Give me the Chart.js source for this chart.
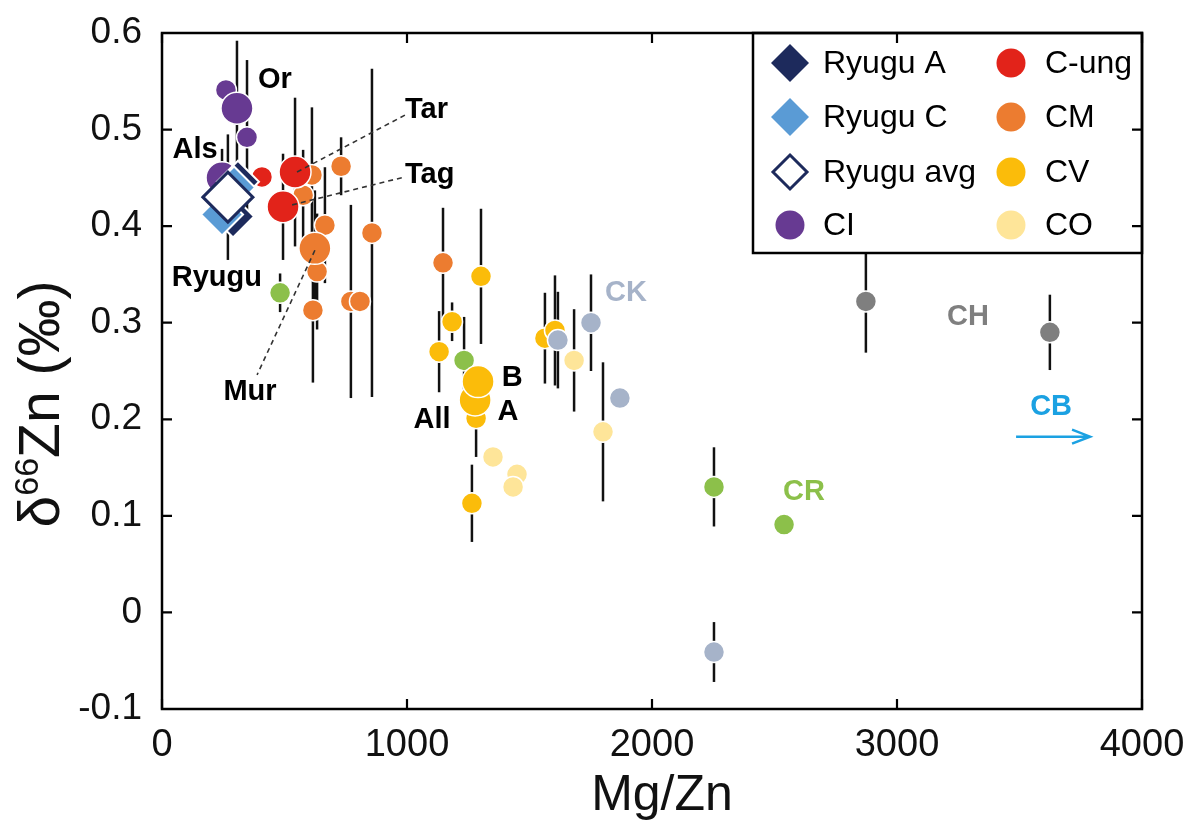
<!DOCTYPE html>
<html>
<head>
<meta charset="utf-8">
<script src="https://cdn.jsdelivr.net/npm/chart.js@4.4.1/dist/chart.umd.min.js"></script>
<style>
  html, body { margin: 0; padding: 0; background: #fff; }
  #c { display: block; }
</style>
</head>
<body>
<canvas id="c" width="1200" height="827"></canvas>
<script>
// ---------------- DATA ----------------
const xTicks = [0, 1000, 2000, 3000, 4000];
const xTickLabels = ['0', '1000', '2000', '3000', '4000'];
const yTicks = [-0.1, 0, 0.1, 0.2, 0.3, 0.4, 0.5, 0.6];
const yTickLabels = ['-0.1', '0', '0.1', '0.2', '0.3', '0.4', '0.5', '0.6'];

// Ryugu
const ryuguA_x = [310, 290];
const ryuguA_y = [0.446, 0.41];
const ryuguC_x = [294, 245];
const ryuguC_y = [0.44, 0.412];
const ryuguAvg_x = [269];
const ryuguAvg_y = [0.43];
const ryuguAvg_err = [0.065];

// CI
const ci_x = [261, 347, 245, 306];
const ci_y = [0.541, 0.492, 0.45, 0.522];
const ci_err = [0, 0.08, 0.03, 0.07];
const ci_big = [false, false, true, true];

// C-ung
const cung_x = [408, 494, 543];
const cung_y = [0.451, 0.42, 0.456];
const cung_err = [0, 0.055, 0.077];
const cung_big = [false, true, true];

// CM
const cm_x = [612, 576, 731, 665, 633, 616, 857, 771, 808, 1147, 624];
const cm_y = [0.453, 0.432, 0.462, 0.401, 0.353, 0.313, 0.393, 0.322, 0.322, 0.362, 0.377];
const cm_err = [0.07, 0.047, 0.03, 0.06, 0.06, 0.075, 0.17, 0.1, 0, 0.057, 0.06];
const cm_big = [false, false, false, false, false, false, false, false, false, false, true];

// CV
const cv_x = [1265, 1131, 1184, 1302, 1563, 1604, 1282, 1278, 1290];
const cv_y = [0.113, 0.27, 0.301, 0.348, 0.284, 0.292, 0.201, 0.22, 0.239];
const cv_err = [0.04, 0.042, 0.02, 0.07, 0.047, 0.057, 0.04, 0, 0];
const cv_big = [false, false, false, false, false, false, false, true, true];

// CO
const co_x = [1682, 1800, 1351, 1449, 1433];
const co_y = [0.261, 0.187, 0.161, 0.143, 0.13];
const co_err = [0.053, 0.072, 0, 0, 0];

// CR
const cr_x = [482, 1233, 2253, 2539];
const cr_y = [0.331, 0.261, 0.13, 0.091];
const cr_err = [0.02, 0.045, 0.041, 0];

// CK
const ck_x = [1616, 1751, 1869, 2253];
const ck_y = [0.282, 0.3, 0.222, -0.041];
const ck_err = [0.05, 0.05, 0, 0.031];

// CH
const ch_x = [2873, 3624];
const ch_y = [0.322, 0.29];
const ch_err = [0.053, 0.039];

// Text annotations (data coordinates)
const labelText = ['Or', 'Als', 'Tar', 'Tag', 'Ryugu', 'Mur', 'B', 'A', 'All', 'CK', 'CH', 'CR', 'CB'];
const labelX    = [461, 135, 992, 992, 224, 359, 1429, 1412, 1102, 1894, 3290, 2620, 3629];
const labelY    = [0.551, 0.479, 0.520, 0.453, 0.346, 0.228, 0.243, 0.208, 0.199, 0.331, 0.306, 0.125, 0.213];
const labelAlign = ['center', 'center', 'left', 'left', 'center', 'center', 'center', 'center', 'center', 'center', 'center', 'center', 'center'];
const labelColor = ['#000', '#000', '#000', '#000', '#000', '#000', '#000', '#000', '#000', '#a6b3c9', '#7f7f7f', '#8cc04a', '#1ba1e2'];

// Dashed leader lines (data coordinates)
const leaderFromX = [551, 531, 624];
const leaderFromY = [0.456, 0.422, 0.375];
const leaderToX   = [992, 992, 388];
const leaderToY   = [0.515, 0.451, 0.246];

// CB arrow (data coordinates)
const cbArrowX = [3486, 3788];
const cbArrowY = [0.182, 0.182];

// ---------------- STYLE ----------------
const FONT = "'Liberation Sans', Arial, Helvetica, sans-serif";
const COL = {
  ryuguA: '#1d2a5c', ryuguC: '#5a9bd5', ci: '#673a92', cung: '#e2231a',
  cm: '#ec7c30', cv: '#fbbc0a', co: '#fee599', cr: '#8cc04a', ck: '#a6b3c9', ch: '#7f7f7f'
};
const R_SMALL = 10.5, R_BIG = 16;

function pts(xs, ys) { return xs.map((x, i) => ({ x: x, y: ys[i] })); }
function radii(big, n) { return big ? big.map(b => b ? R_BIG : R_SMALL) : new Array(n).fill(R_SMALL); }

function circleSet(label, xs, ys, errs, big, color, order) {
  return {
    label: label, data: pts(xs, ys), errs: errs, order: order,
    pointStyle: 'circle', pointRadius: radii(big, xs.length), pointHoverRadius: radii(big, xs.length),
    backgroundColor: color, borderColor: '#ffffff', pointBorderWidth: 1.5, showLine: false
  };
}

const datasets = [
  { label: 'Ryugu avg', data: pts(ryuguAvg_x, ryuguAvg_y), errs: ryuguAvg_err, order: 0,
    pointStyle: 'rectRot', pointRadius: 25, pointHoverRadius: 25,
    backgroundColor: '#ffffff', borderColor: COL.ryuguA, pointBorderWidth: 3, showLine: false },
  { label: 'Ryugu C', data: pts(ryuguC_x, ryuguC_y), order: 1,
    pointStyle: 'rectRot', pointRadius: 21, pointHoverRadius: 21,
    backgroundColor: COL.ryuguC, borderColor: '#ffffff', pointBorderWidth: 2, showLine: false },
  { label: 'Ryugu A', data: pts(ryuguA_x, ryuguA_y), order: 2,
    pointStyle: 'rectRot', pointRadius: 21, pointHoverRadius: 21,
    backgroundColor: COL.ryuguA, borderColor: '#ffffff', pointBorderWidth: 2, showLine: false },
  circleSet('C-ung', cung_x, cung_y, cung_err, cung_big, COL.cung, 3),
  circleSet('CI', ci_x, ci_y, ci_err, ci_big, COL.ci, 4),
  circleSet('CM', cm_x, cm_y, cm_err, cm_big, COL.cm, 5),
  circleSet('CH', ch_x, ch_y, ch_err, null, COL.ch, 6),
  circleSet('CK', ck_x, ck_y, ck_err, null, COL.ck, 7),
  circleSet('CV', cv_x, cv_y, cv_err, cv_big, COL.cv, 8),
  circleSet('CR', cr_x, cr_y, cr_err, null, COL.cr, 9),
  circleSet('CO', co_x, co_y, co_err, null, COL.co, 10)
];

// Legend entries (drawn as a box inside the plot)
const legendItems = [
  { text: 'Ryugu A', shape: 'diamond', fill: COL.ryuguA, stroke: null, col: 0, row: 0 },
  { text: 'Ryugu C', shape: 'diamond', fill: COL.ryuguC, stroke: null, col: 0, row: 1 },
  { text: 'Ryugu avg', shape: 'diamond', fill: '#ffffff', stroke: COL.ryuguA, col: 0, row: 2 },
  { text: 'CI', shape: 'circle', fill: COL.ci, col: 0, row: 3 },
  { text: 'C-ung', shape: 'circle', fill: COL.cung, col: 1, row: 0 },
  { text: 'CM', shape: 'circle', fill: COL.cm, col: 1, row: 1 },
  { text: 'CV', shape: 'circle', fill: COL.cv, col: 1, row: 2 },
  { text: 'CO', shape: 'circle', fill: COL.co, col: 1, row: 3 }
];

// ---------------- PLUGINS ----------------
const errorBars = {
  id: 'errorBars',
  beforeDatasetsDraw(chart) {
    const ctx = chart.ctx, xs = chart.scales.x, ys = chart.scales.y;
    ctx.save();
    ctx.strokeStyle = '#111';
    ctx.lineWidth = 2.5;
    ctx.lineCap = 'butt';
    chart.data.datasets.forEach(ds => {
      if (!ds.errs) return;
      ds.data.forEach((p, i) => {
        const e = ds.errs[i];
        if (!e) return;
        const px = xs.getPixelForValue(p.x);
        ctx.beginPath();
        ctx.moveTo(px, ys.getPixelForValue(p.y + e));
        ctx.lineTo(px, ys.getPixelForValue(p.y - e));
        ctx.stroke();
      });
    });
    ctx.restore();
  }
};

const decorations = {
  id: 'decorations',
  afterDatasetsDraw(chart) {
    const ctx = chart.ctx, xs = chart.scales.x, ys = chart.scales.y, a = chart.chartArea;
    ctx.save();
    // leader lines
    ctx.strokeStyle = '#333';
    ctx.lineWidth = 1.6;
    ctx.setLineDash([5, 4]);
    for (let i = 0; i < leaderFromX.length; i++) {
      ctx.beginPath();
      ctx.moveTo(xs.getPixelForValue(leaderFromX[i]), ys.getPixelForValue(leaderFromY[i]));
      ctx.lineTo(xs.getPixelForValue(leaderToX[i]), ys.getPixelForValue(leaderToY[i]));
      ctx.stroke();
    }
    ctx.setLineDash([]);

    // labels
    ctx.font = 'bold 29px ' + FONT;
    ctx.textBaseline = 'middle';
    for (let i = 0; i < labelText.length; i++) {
      ctx.fillStyle = labelColor[i];
      ctx.textAlign = labelAlign[i];
      ctx.fillText(labelText[i], xs.getPixelForValue(labelX[i]), ys.getPixelForValue(labelY[i]));
    }

    // CB arrow
    const ax0 = xs.getPixelForValue(cbArrowX[0]), ax1 = xs.getPixelForValue(cbArrowX[1]);
    const ay = ys.getPixelForValue(cbArrowY[0]);
    ctx.strokeStyle = '#1ba1e2';
    ctx.lineWidth = 2.5;
    ctx.beginPath();
    ctx.moveTo(ax0, ay); ctx.lineTo(ax1, ay);
    ctx.moveTo(ax1 - 18, ay - 7); ctx.lineTo(ax1, ay); ctx.lineTo(ax1 - 18, ay + 7);
    ctx.stroke();

    // legend box
    const lx = 753, ly = a.top, lw = a.right - 753, lh = 220;
    ctx.fillStyle = '#fff';
    ctx.fillRect(lx, ly, lw, lh);
    ctx.strokeStyle = '#000';
    ctx.lineWidth = 2.5;
    ctx.strokeRect(lx, ly, lw, lh);
    const symX = [790, 1011], txtX = [823, 1045], rowY = [a.top + 30, a.top + 84, a.top + 139, a.top + 192];
    ctx.font = '32px ' + FONT;
    ctx.textAlign = 'left';
    ctx.textBaseline = 'middle';
    legendItems.forEach(it => {
      const sx = symX[it.col], sy = rowY[it.row];
      ctx.beginPath();
      if (it.shape === 'diamond') {
        const r = it.stroke ? 17 : 19;
        ctx.moveTo(sx, sy - r); ctx.lineTo(sx + r, sy); ctx.lineTo(sx, sy + r); ctx.lineTo(sx - r, sy); ctx.closePath();
        ctx.fillStyle = it.fill; ctx.fill();
        if (it.stroke) { ctx.strokeStyle = it.stroke; ctx.lineWidth = 3; ctx.stroke(); }
      } else {
        ctx.arc(sx, sy, 14.5, 0, Math.PI * 2);
        ctx.fillStyle = it.fill; ctx.fill();
      }
      ctx.fillStyle = '#000';
      ctx.fillText(it.text, txtX[it.col], sy + 1);
    });
    ctx.restore();
  },
  afterDraw(chart) {
    const ctx = chart.ctx, xs = chart.scales.x, ys = chart.scales.y, a = chart.chartArea;
    ctx.save();
    // frame
    ctx.strokeStyle = '#000';
    ctx.lineWidth = 2.5;
    ctx.strokeRect(a.left, a.top, a.right - a.left, a.bottom - a.top);
    // inward ticks
    ctx.lineWidth = 2.2;
    ctx.beginPath();
    const T = 10;
    yTicks.forEach(v => {
      const py = ys.getPixelForValue(v);
      ctx.moveTo(a.left, py); ctx.lineTo(a.left + T, py);
      ctx.moveTo(a.right, py); ctx.lineTo(a.right - T, py);
    });
    xTicks.forEach(v => {
      const px = xs.getPixelForValue(v);
      ctx.moveTo(px, a.bottom); ctx.lineTo(px, a.bottom - T);
      ctx.moveTo(px, a.top); ctx.lineTo(px, a.top + T);
    });
    ctx.stroke();

    // axis titles
    ctx.fillStyle = '#111';
    ctx.textBaseline = 'alphabetic';
    ctx.textAlign = 'center';
    ctx.font = '50px ' + FONT;
    ctx.fillText('Mg/Zn', 662, 810);

    // y title with superscript
    ctx.translate(59, 404);
    ctx.rotate(-Math.PI / 2);
    const big = '57px ' + FONT, small = '34px ' + FONT;
    const p1 = 'δ', p2 = '66', p3 = 'Zn (‰)';
    ctx.font = big; const w1 = ctx.measureText(p1).width, w3 = ctx.measureText(p3).width;
    ctx.font = small; const w2 = ctx.measureText(p2).width;
    let x0 = -(w1 + w2 + w3) / 2;
    ctx.textAlign = 'left';
    ctx.font = big; ctx.fillText(p1, x0, 0);
    ctx.font = small; ctx.fillText(p2, x0 + w1, -21);
    ctx.font = big; ctx.fillText(p3, x0 + w1 + w2, 0);
    ctx.restore();
  }
};

// ---------------- CHART ----------------
new Chart(document.getElementById('c'), {
  type: 'scatter',
  data: { datasets: datasets },
  options: {
    responsive: false,
    animation: false,
    events: [],
    layout: { padding: { top: 33, right: 58, left: 0, bottom: 0 } },
    plugins: { legend: { display: false }, tooltip: { enabled: false } },
    scales: {
      x: {
        type: 'linear', min: 0, max: 4000, position: 'bottom',
        afterFit(s) { s.height = 118; s.paddingLeft = 0; s.paddingRight = 0; },
        afterBuildTicks(s) { s.ticks = xTicks.map(v => ({ value: v })); },
        ticks: {
          font: { size: 38, family: FONT }, color: '#111', padding: 6, maxRotation: 0, autoSkip: false,
          callback: (v) => xTickLabels[xTicks.indexOf(v)]
        },
        grid: { display: false }, border: { display: false }
      },
      y: {
        type: 'linear', min: -0.1, max: 0.6, position: 'left',
        afterFit(s) { s.width = 162; s.paddingTop = 0; s.paddingBottom = 0; },
        afterBuildTicks(s) { s.ticks = yTicks.map(v => ({ value: v })); },
        ticks: {
          font: { size: 37, family: FONT }, color: '#111', padding: 12, autoSkip: false,
          callback: (v) => { const i = yTicks.findIndex(t => Math.abs(t - v) < 1e-9); return yTickLabels[i]; }
        },
        grid: { display: false }, border: { display: false }
      }
    }
  },
  plugins: [errorBars, decorations]
});
</script>
</body>
</html>
